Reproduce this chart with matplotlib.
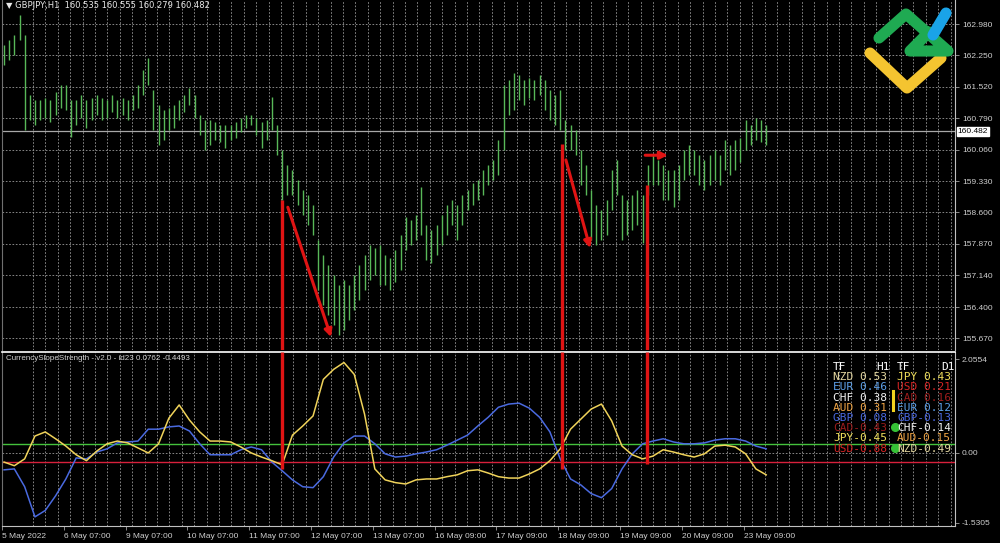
import numpy as np
import matplotlib
matplotlib.use("Agg")
import matplotlib.pyplot as plt
from matplotlib.lines import Line2D

W, H = 1000, 543

header = "\u25bc GBPJPY,H1  160.535 160.555 160.279 160.482"
ind_title = "CurrencySlopeStrength - v2.0 - id23 0.0762 -0.4493"
last_price = 160.482

# 2-hour bars (high / low)
bar_high = [162.49, 162.61, 162.72, 163.19, 162.72, 161.33, 161.21, 161.21, 161.26, 161.21,
            161.40, 161.56, 161.56, 161.21, 161.21, 161.33, 161.21, 161.26, 161.33, 161.26,
            161.21, 161.33, 161.21, 161.26, 161.21, 161.33, 161.56, 161.91, 162.19, 161.45,
            161.10, 160.98, 161.03, 161.10, 161.21, 161.33, 161.49, 161.33, 160.86, 160.75,
            160.75, 160.70, 160.63, 160.63, 160.63, 160.70, 160.80, 160.86, 160.86, 160.80,
            160.70, 160.75, 161.28, 160.63, 160.05, 159.70, 159.59, 159.35, 159.12, 159.00,
            158.77, 157.96, 157.61, 157.38, 157.14, 156.91, 157.03, 156.91, 157.14, 157.38,
            157.61, 157.84, 157.77, 157.84, 157.61, 157.54, 157.72, 158.07, 158.49, 158.42,
            158.54, 159.19, 158.31, 158.19, 158.31, 158.54, 158.77, 158.89, 158.77, 159.00,
            159.12, 159.28, 159.35, 159.59, 159.70, 159.82, 160.28, 161.56, 161.68, 161.84,
            161.80, 161.68, 161.72, 161.68, 161.80, 161.68, 161.45, 161.33, 161.45, 160.75,
            160.63, 160.52, 160.05, 159.70, 159.12, 158.77, 158.66, 158.89, 159.59, 159.82,
            159.00, 158.89, 159.00, 159.12, 159.00, 159.70, 159.93, 159.82, 159.70, 159.59,
            159.59, 159.70, 160.05, 160.17, 160.05, 159.93, 159.82, 159.93, 160.05, 159.93,
            160.28, 160.17, 160.28, 160.33, 160.75, 160.63, 160.80, 160.75, 160.63]
bar_low = [162.03, 162.14, 162.26, 162.61, 160.52, 160.75, 160.63, 160.75, 160.80, 160.70,
           160.86, 161.03, 160.98, 160.35, 160.63, 160.80, 160.56, 160.75, 160.86, 160.75,
           160.80, 160.93, 160.80, 160.86, 160.75, 160.98, 161.03, 161.33, 161.56, 160.52,
           160.17, 160.28, 160.52, 160.56, 160.75, 160.93, 161.10, 160.80, 160.40, 160.05,
           160.17, 160.28, 160.24, 160.10, 160.28, 160.33, 160.47, 160.56, 160.63, 160.40,
           160.10, 160.28, 160.52, 159.93, 158.89, 159.00, 159.00, 158.77, 158.54, 158.31,
           158.07, 156.80, 156.45, 156.22, 155.98, 155.75, 155.86, 156.10, 156.33, 156.56,
           156.80, 157.03, 157.14, 156.91, 156.91, 156.80, 156.98, 157.26, 157.72, 157.84,
           157.96, 158.07, 157.49, 157.42, 157.61, 157.84, 158.07, 158.31, 157.96, 158.31,
           158.66, 158.77, 158.89, 159.00, 159.24, 159.35, 159.47, 160.05, 160.86, 160.98,
           161.21, 161.10, 161.26, 161.21, 161.33, 160.98, 160.75, 160.63, 160.52, 160.05,
           160.05, 159.93, 159.24, 159.00, 157.96, 157.84, 157.96, 158.07, 158.66, 159.00,
           157.96, 158.07, 158.19, 158.31, 157.89, 159.00, 159.24, 159.24, 158.89, 158.89,
           158.72, 158.89, 159.35, 159.47, 159.47, 159.24, 159.12, 159.24, 159.35, 159.24,
           159.59, 159.47, 159.59, 159.77, 160.05, 160.17, 160.28, 160.24, 160.17]

price_ticks = [162.980, 162.250, 161.520, 160.790, 160.060, 159.330,
               158.600, 157.870, 157.140, 156.400, 155.670]

# CurrencySlopeStrength lines, one value every second bar
ind_bar = list(range(0, 149, 2))
jpy_line = [-0.20, -0.28, -0.13, 0.37, 0.46, 0.31, 0.15, -0.04, -0.17, 0.04,
            0.20, 0.26, 0.22, 0.11, 0.00, 0.20, 0.76, 1.05, 0.72, 0.46,
            0.26, 0.26, 0.24, 0.13, 0.00, -0.09, -0.17, -0.26, 0.39, 0.59,
            0.81, 1.61, 1.83, 1.98, 1.72, 0.85, -0.35, -0.59, -0.65, -0.68,
            -0.59, -0.57, -0.57, -0.52, -0.48, -0.39, -0.37, -0.44, -0.52, -0.55,
            -0.55, -0.46, -0.35, -0.17, 0.09, 0.52, 0.74, 0.96, 1.07, 0.70,
            0.15, -0.04, -0.13, -0.07, 0.07, 0.02, -0.04, -0.09, -0.02, 0.15,
            0.17, 0.13, -0.02, -0.35, -0.48]
gbp_line = [-0.37, -0.35, -0.74, -1.40, -1.26, -0.94, -0.57, -0.11, -0.13, 0.02,
            0.09, 0.22, 0.24, 0.26, 0.52, 0.52, 0.57, 0.59, 0.48, 0.20,
            -0.04, -0.04, -0.04, 0.07, 0.13, 0.07, -0.20, -0.39, -0.59, -0.74,
            -0.76, -0.52, -0.09, 0.22, 0.37, 0.37, 0.20, -0.02, -0.09, -0.07,
            -0.02, 0.02, 0.07, 0.17, 0.28, 0.39, 0.59, 0.78, 1.00, 1.07,
            1.09, 0.98, 0.78, 0.46, -0.13, -0.57, -0.70, -0.89, -0.98, -0.78,
            -0.35, -0.02, 0.20, 0.26, 0.31, 0.24, 0.20, 0.20, 0.22, 0.28,
            0.31, 0.31, 0.26, 0.15, 0.09]
ind_ticks = [2.0554, 0.0, -1.5305]
ind_tick_labels = ["2.0554", "0.00", "-1.5305"]
level_up, level_dn = 0.2, -0.2

time_ticks = [-0.4, 11.6, 23.6, 35.6, 47.6, 59.6, 71.6, 83.6, 95.6, 107.6, 119.6, 131.6, 143.6]
time_labels = ["5 May 2022", "6 May 07:00", "9 May 07:00", "10 May 07:00", "11 May 07:00",
               "12 May 07:00", "13 May 07:00", "16 May 09:00", "17 May 09:00",
               "18 May 09:00", "19 May 09:00", "20 May 09:00", "23 May 09:00"]

# strength table (H1 and D1 columns)
h1_names = ["NZD", "EUR", "CHF", "AUD", "GBP", "CAD", "JPY", "USD"]
h1_vals = [0.53, 0.46, 0.38, 0.31, 0.08, -0.43, -0.45, -0.88]
d1_names = ["JPY", "USD", "CAD", "EUR", "GBP", "CHF", "AUD", "NZD"]
d1_vals = [0.43, 0.21, 0.16, 0.12, -0.13, -0.14, -0.15, -0.49]
cur_colors = {"NZD": "#e6d9a2", "EUR": "#5c9fe8", "CHF": "#f2f2f2", "AUD": "#f0a545",
              "GBP": "#4a68e0", "CAD": "#9c1c1c", "JPY": "#f0df5a", "USD": "#d82424"}

# hand-drawn markup (bar index, price / indicator value)
mark_x = [54.0, 108.3, 124.9]
mark_top = [158.89, 160.19, 159.24]
mark_bottom = [-0.35, -0.35, -0.24]
arrow_from = [(55.1, 158.72), (109.1, 159.82), (124.5, 159.93)]
arrow_to = [(63.5, 155.70), (113.8, 157.77), (128.9, 159.93)]

RED = "#e01414"
GRID = "#9a9a9a"
TXT = "#cfcfcf"
FONT = "Liberation Sans"


def fx(x):
    return x / W


def fy(y):
    return 1 - y / H


fig = plt.figure(figsize=(10, 5.43), dpi=100, facecolor="black")
ax = fig.add_axes([fx(2), fy(350), 953 / W, 350 / H])
axi = fig.add_axes([fx(2), fy(526), 953 / W, 174 / H], sharex=ax)

xlim = (-0.39, 184.66)
grid_x = np.arange(5.63, xlim[1], 2.408)

for a in (ax, axi):
    a.set_facecolor("black")
    for gx in grid_x:
        a.axvline(gx, color=GRID, lw=0.6, ls=(0, (2, 2)), zorder=0)
    a.spines["left"].set_color("#707070")
    a.spines["right"].set_color("#c0c0c0")
    a.yaxis.tick_right()
    a.tick_params(axis="y", colors="#a0a0a0", labelcolor=TXT, labelsize=6,
                  length=3, width=0.6, pad=2)

# price pane
ax.set_xlim(*xlim)
ax.set_ylim(155.40, 163.54)
ax.spines["top"].set_visible(False)
ax.spines["bottom"].set_visible(False)
ax.tick_params(axis="x", bottom=False, labelbottom=False)
ax.set_yticks(price_ticks)
ax.set_yticklabels([f"{t:.3f}" for t in price_ticks], family=FONT)
for t in price_ticks:
    ax.axhline(t, color=GRID, lw=0.6, ls=(0, (2, 2)), zorder=0)

bars = np.arange(len(bar_high))
ax.vlines(bars, bar_low, bar_high, color="#58b858", lw=1.0, zorder=2)

ax.axhline(last_price, color="#a8a8a8", lw=0.9, zorder=1)
ax.annotate(f"{last_price:.3f}", xy=(1, last_price), xycoords=("axes fraction", "data"),
            xytext=(2, 0), textcoords="offset points", ha="left", va="center",
            fontsize=6, family=FONT, color="black",
            bbox=dict(boxstyle="square,pad=0.15", fc="white", ec="white"),
            annotation_clip=False)

ax.vlines(mark_x, 155.40, mark_top, color=RED, lw=2.4, zorder=4)
for (x0, y0), (x1, y1) in zip(arrow_from, arrow_to):
    ax.annotate("", xy=(x1, y1), xytext=(x0, y0),
                arrowprops=dict(arrowstyle="-|>", color=RED, lw=2.2,
                                mutation_scale=11, shrinkA=0, shrinkB=0), zorder=4)

fig.text(fx(6), fy(5), header, fontsize=6, family=["DejaVu Sans"], color="#e8e8e8", va="center")

# indicator pane
axi.set_ylim(-1.60, 2.21)
axi.spines["top"].set_color("white")
axi.spines["top"].set_linewidth(1.2)
axi.spines["bottom"].set_color("#c0c0c0")
axi.axhline(0, color=GRID, lw=0.6, ls=(0, (2, 2)), zorder=0)
axi.axhline(level_up, color="#44c23c", lw=1.0, zorder=1)
axi.axhline(level_dn, color="#d8203c", lw=1.0, zorder=1)
axi.plot(ind_bar, gbp_line, color="#4a6ae0", lw=1.1, zorder=2)
axi.plot(ind_bar, jpy_line, color="#f0d35a", lw=1.1, zorder=3)
axi.vlines(mark_x, mark_bottom, 2.21, color=RED, lw=2.4, zorder=4)

axi.set_yticks(ind_ticks)
axi.set_yticklabels(ind_tick_labels, family=FONT)
axi.set_xticks(time_ticks)
axi.set_xticklabels(time_labels, family=FONT, ha="left")
axi.tick_params(axis="x", colors="#a0a0a0", labelcolor=TXT, labelsize=6,
                length=3, width=0.6, pad=2)

fig.text(fx(6), fy(359), ind_title, fontsize=5.8, family=FONT, color="#d0d0d0", va="center")

# strength table
mono = "DejaVu Sans Mono"
row0, dy = 367, 10.2
fig.text(fx(833), fy(row0), "TF", fontsize=8, family=mono, color="white", va="center")
fig.text(fx(890), fy(row0), "H1", fontsize=8, family=mono, color="white", va="center", ha="right")
fig.text(fx(897), fy(row0), "TF", fontsize=8, family=mono, color="white", va="center")
fig.text(fx(955), fy(row0), "D1", fontsize=8, family=mono, color="white", va="center", ha="right")
for i, (n, v) in enumerate(zip(h1_names, h1_vals)):
    fig.text(fx(833), fy(row0 + dy * (i + 1)), f"{n}{v: .2f}", fontsize=8,
             family=mono, color=cur_colors[n], va="center")
for i, (n, v) in enumerate(zip(d1_names, d1_vals)):
    fig.text(fx(897), fy(row0 + dy * (i + 1)), f"{n}{v: .2f}", fontsize=8,
             family=mono, color=cur_colors[n], va="center")
fig.add_artist(Line2D([fx(893), fx(893)], [fy(391), fy(410)], transform=fig.transFigure,
                      color="#f2d21e", lw=2.2))
fig.add_artist(Line2D([fx(895), fx(895)], [fy(427), fy(448)], transform=fig.transFigure,
                      ls="none", marker="o", ms=5.5, color="#36c236"))

# logo
logo = [("#f4c430", [(870, 53), (907, 88), (941, 58)]),
        ("#1faa52", [(879, 38), (906, 14), (948, 51), (910, 51), (929, 32)]),
        ("#1aa3e8", [(933, 35), (946, 13)])]
for col, pts in logo:
    xs = [fx(p[0]) for p in pts]
    ys = [fy(p[1]) for p in pts]
    fig.add_artist(Line2D(xs, ys, transform=fig.transFigure, color=col, lw=8,
                          solid_capstyle="round", solid_joinstyle="round"))

fig.savefig("out.png", dpi=100, facecolor="black")
